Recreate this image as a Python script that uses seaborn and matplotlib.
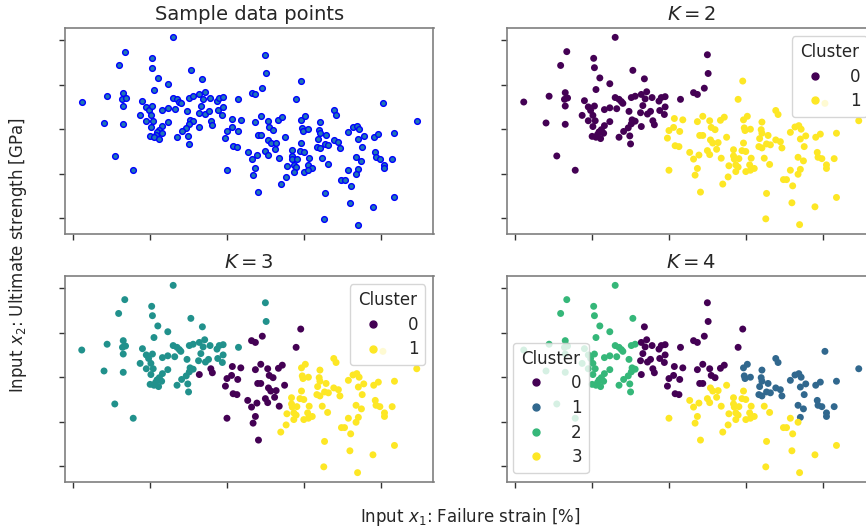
import matplotlib
matplotlib.use("Agg")
import matplotlib.pyplot as plt
from matplotlib.lines import Line2D
import seaborn as sns
import pandas as pd

# Failure strain [%] and ultimate strength [GPa] of the samples
strain = [2.30, 1.67, 2.02, 1.59, 2.03, 2.10, 3.50, 3.51, 2.53, 2.68,
          1.11, 1.44, 1.65, 1.64, 1.68, 1.65, 1.40, 1.65, 1.54, 1.78,
          2.05, 2.23, 1.90, 1.87, 1.95, 1.98, 2.03, 2.01, 1.95, 2.04,
          2.01, 2.16, 2.23, 2.32, 2.30, 2.35, 2.38, 2.40, 2.23, 2.16,
          2.12, 2.09, 2.15, 2.07, 2.00, 2.05, 2.11, 2.48, 2.51, 2.56,
          2.64, 2.71, 2.69, 2.78, 2.87, 2.90, 2.95, 2.66, 2.63, 2.72,
          2.76, 2.88, 2.95, 2.94, 2.52, 2.56, 2.51, 2.47, 2.41, 2.64,
          2.79, 2.81, 2.49, 2.35, 2.50, 3.15, 3.07, 3.18, 3.06, 3.00,
          3.14, 2.98, 3.08, 3.13, 3.27, 3.00, 3.96, 3.46, 3.32, 3.37,
          3.90, 5.03, 4.39, 4.42, 5.47, 3.44, 3.37, 3.53, 3.67, 3.72,
          3.55, 3.60, 3.40, 3.44, 3.54, 3.57, 3.64, 3.62, 3.75, 3.50,
          3.53, 3.39, 3.32, 3.37, 3.34, 3.68, 3.97, 4.02, 3.98, 3.99,
          4.06, 4.21, 4.20, 4.21, 4.29, 4.18, 3.97, 4.17, 4.21, 4.27,
          4.32, 4.39, 4.45, 4.47, 3.95, 4.00, 3.84, 3.84, 3.85, 3.91,
          4.07, 4.24, 3.78, 3.87, 3.90, 3.87, 3.77, 4.00, 4.05, 4.11,
          4.06, 4.31, 4.58, 4.64, 4.69, 4.72, 4.78, 4.71, 4.76, 4.68,
          4.75, 4.58, 4.71, 4.68, 4.49, 4.53, 4.91, 4.97, 5.18, 4.93,
          4.94, 4.99, 5.05, 5.05, 5.15, 3.41, 3.70, 4.27, 4.26, 4.60,
          4.70, 4.90, 5.18, 4.61]

strength = [5.06, 4.74, 4.59, 4.43, 4.38, 4.15, 4.67, 4.25, 4.32, 4.13,
            3.61, 3.74, 3.82, 3.67, 3.70, 3.52, 3.14, 3.11, 2.40, 2.08,
            3.89, 4.02, 3.64, 3.31, 3.50, 3.42, 3.52, 3.31, 3.19, 3.19,
            3.06, 3.44, 3.48, 3.46, 3.71, 3.67, 3.62, 3.58, 3.17, 3.08,
            2.99, 2.94, 2.91, 2.88, 2.84, 2.82, 2.79, 3.40, 3.71, 3.74,
            3.78, 3.84, 3.68, 3.71, 3.63, 3.71, 3.73, 3.53, 3.37, 3.34,
            3.40, 3.42, 3.50, 3.33, 3.21, 3.18, 3.12, 3.03, 2.95, 3.06,
            3.19, 3.10, 2.85, 2.82, 2.67, 3.67, 3.24, 3.21, 3.04, 2.97,
            2.95, 2.80, 2.63, 2.61, 2.48, 2.08, 4.08, 3.92, 3.82, 3.78,
            3.67, 3.58, 3.42, 3.33, 3.19, 3.29, 3.17, 3.19, 3.20, 3.27,
            3.04, 2.99, 2.86, 2.86, 2.76, 2.69, 2.70, 2.55, 2.82, 2.52,
            2.43, 2.42, 2.33, 2.12, 1.97, 2.35, 3.21, 3.29, 3.03, 2.97,
            3.00, 3.16, 2.99, 2.91, 2.86, 2.79, 2.69, 2.61, 2.58, 2.67,
            2.65, 2.76, 2.72, 2.58, 2.52, 2.50, 2.54, 2.40, 2.33, 2.34,
            2.35, 2.35, 2.18, 2.20, 2.15, 2.05, 1.93, 2.05, 2.20, 2.12,
            2.08, 2.21, 2.93, 3.05, 3.08, 3.00, 2.85, 2.78, 2.61, 2.37,
            2.29, 2.08, 2.10, 1.99, 1.87, 1.87, 2.82, 2.89, 2.91, 2.48,
            2.37, 2.34, 2.20, 2.12, 2.34, 1.59, 1.77, 1.56, 0.99, 1.35,
            0.86, 1.26, 1.47, 1.73]

# Cluster assignments for K = 2, 3 and 4
labels_k2 = [0, 0, 0, 0, 0, 0, 0, 0, 0, 0,
             0, 0, 0, 0, 0, 0, 0, 0, 0, 0,
             0, 0, 0, 0, 0, 0, 0, 0, 0, 0,
             0, 0, 0, 0, 0, 0, 0, 0, 0, 0,
             0, 0, 0, 0, 0, 0, 0, 0, 0, 0,
             0, 0, 0, 0, 0, 0, 0, 0, 0, 0,
             0, 0, 0, 0, 0, 0, 0, 0, 0, 0,
             0, 0, 0, 0, 0, 0, 1, 1, 1, 1,
             1, 1, 1, 1, 1, 1, 1, 0, 0, 0,
             1, 1, 1, 1, 1, 1, 1, 1, 1, 1,
             1, 1, 1, 1, 1, 1, 1, 1, 1, 1,
             1, 1, 1, 1, 1, 1, 1, 1, 1, 1,
             1, 1, 1, 1, 1, 1, 1, 1, 1, 1,
             1, 1, 1, 1, 1, 1, 1, 1, 1, 1,
             1, 1, 1, 1, 1, 1, 1, 1, 1, 1,
             1, 1, 1, 1, 1, 1, 1, 1, 1, 1,
             1, 1, 1, 1, 1, 1, 1, 1, 1, 1,
             1, 1, 1, 1, 1, 1, 1, 1, 1, 1,
             1, 1, 1, 1]

labels_k3 = [1, 1, 1, 1, 1, 1, 1, 1, 1, 1,
             1, 1, 1, 1, 1, 1, 1, 1, 1, 1,
             1, 1, 1, 1, 1, 1, 1, 1, 1, 1,
             1, 1, 1, 1, 1, 1, 1, 1, 1, 1,
             1, 1, 1, 1, 1, 1, 1, 1, 1, 1,
             1, 1, 1, 1, 1, 1, 1, 1, 1, 1,
             1, 1, 1, 1, 1, 1, 1, 1, 1, 0,
             0, 0, 1, 1, 1, 1, 0, 0, 0, 0,
             0, 0, 0, 0, 0, 0, 0, 0, 0, 0,
             0, 2, 2, 2, 2, 0, 0, 0, 0, 0,
             0, 0, 0, 0, 0, 0, 0, 0, 0, 0,
             0, 0, 0, 0, 0, 0, 2, 2, 2, 2,
             2, 2, 2, 2, 2, 2, 2, 2, 2, 2,
             2, 2, 2, 2, 2, 2, 2, 2, 2, 2,
             2, 2, 2, 2, 2, 2, 2, 2, 2, 2,
             2, 2, 2, 2, 2, 2, 2, 2, 2, 2,
             2, 2, 2, 2, 2, 2, 2, 2, 2, 2,
             2, 2, 2, 2, 2, 0, 2, 2, 2, 2,
             2, 2, 2, 2]

labels_k4 = [2, 2, 2, 2, 2, 2, 0, 0, 2, 0,
             2, 2, 2, 2, 2, 2, 2, 2, 2, 2,
             2, 2, 2, 2, 2, 2, 2, 2, 2, 2,
             2, 2, 2, 2, 2, 2, 2, 2, 2, 2,
             2, 2, 2, 2, 2, 2, 2, 2, 2, 2,
             0, 0, 0, 0, 0, 0, 0, 0, 0, 0,
             0, 0, 0, 0, 2, 2, 2, 2, 2, 0,
             0, 0, 2, 2, 2, 0, 0, 0, 0, 0,
             0, 0, 0, 0, 3, 3, 0, 0, 0, 0,
             0, 1, 1, 1, 1, 0, 0, 0, 0, 0,
             0, 0, 0, 0, 3, 3, 3, 3, 3, 3,
             3, 3, 3, 3, 3, 3, 1, 1, 1, 1,
             1, 1, 1, 1, 1, 1, 3, 1, 1, 1,
             1, 1, 1, 1, 3, 3, 3, 3, 3, 3,
             3, 3, 3, 3, 3, 3, 3, 3, 3, 3,
             3, 3, 1, 1, 1, 1, 1, 1, 1, 1,
             1, 3, 1, 3, 3, 3, 1, 1, 1, 1,
             1, 1, 1, 1, 1, 3, 3, 3, 3, 3,
             3, 3, 3, 3]

ticks = [1, 2, 3, 4, 5]

PURPLE, BLUE, TEAL, GREEN, YELLOW = "#440154", "#31688e", "#21918c", "#35b779", "#fde725"
palette_k2 = {0: PURPLE, 1: YELLOW}
palette_k3 = {0: PURPLE, 1: TEAL, 2: YELLOW}
palette_k4 = {0: PURPLE, 1: BLUE, 2: GREEN, 3: YELLOW}
legend_k2 = [("0", PURPLE), ("1", YELLOW)]
legend_k3 = [("0", PURPLE), ("1", YELLOW)]
legend_k4 = [("0", PURPLE), ("1", BLUE), ("2", GREEN), ("3", YELLOW)]

df = pd.DataFrame({"strain": strain, "strength": strength,
                   "k2": labels_k2, "k3": labels_k3, "k4": labels_k4})

sns.set_style("ticks")
plt.rcParams["font.family"] = ["DejaVu Sans"]

W, H = 866, 531
fig = plt.figure(figsize=(W / 100, H / 100), dpi=100)


def add_panel(left, top, width=368.5, height=206):
    return fig.add_axes([left / W, 1 - (top + height) / H, width / W, height / H])


ax_data = add_panel(65, 28)
ax_k2 = add_panel(507, 28)
ax_k3 = add_panel(65, 276)
ax_k4 = add_panel(507, 276)

sns.scatterplot(data=df, x="strain", y="strength", color="#1f77b4",
                edgecolor="blue", linewidth=1.0, s=17, ax=ax_data)
ax_data.set_title("Sample data points", fontsize=14)

for ax, col, pal, title in [(ax_k2, "k2", palette_k2, "$K=2$"),
                            (ax_k3, "k3", palette_k3, "$K=3$"),
                            (ax_k4, "k4", palette_k4, "$K=4$")]:
    sns.scatterplot(data=df, x="strain", y="strength", hue=col, palette=pal,
                    s=25, linewidth=0, legend=False, ax=ax)
    ax.set_title(title, fontsize=14)

for ax in (ax_data, ax_k2, ax_k3, ax_k4):
    ax.set_xticks(ticks)
    ax.set_yticks(ticks)
    ax.set_xticklabels([])
    ax.set_yticklabels([])
    ax.set_xlabel("")
    ax.set_ylabel("")
    ax.tick_params(direction="out", length=4, width=1, color="0.2")
    for sp in ax.spines.values():
        sp.set_color("#7f7f7f")
        sp.set_linewidth(1.2)


def cluster_legend(ax, entries, **kw):
    handles = [Line2D([], [], marker="o", linestyle="", markersize=5,
                      markerfacecolor=c, markeredgecolor=c) for _, c in entries]
    ax.legend(handles, [t for t, _ in entries], title="Cluster",
              fontsize=12, title_fontsize=12, labelspacing=0.4,
              handletextpad=1.1, **kw)


cluster_legend(ax_k2, legend_k2, loc="upper right")
cluster_legend(ax_k3, legend_k3, loc="upper right")
cluster_legend(ax_k4, legend_k4, loc="upper left",
               bbox_to_anchor=(0.016, 0.675), borderaxespad=0)

fig.text(470 / W, 1 - 517 / H, "Input $x_1$: Failure strain [%]",
         ha="center", va="center", fontsize=12)
fig.text(18 / W, 1 - 255 / H, "Input $x_2$: Ultimate strength [GPa]",
         rotation=90, ha="center", va="center", fontsize=12)

fig.savefig("out.png", dpi=100)
